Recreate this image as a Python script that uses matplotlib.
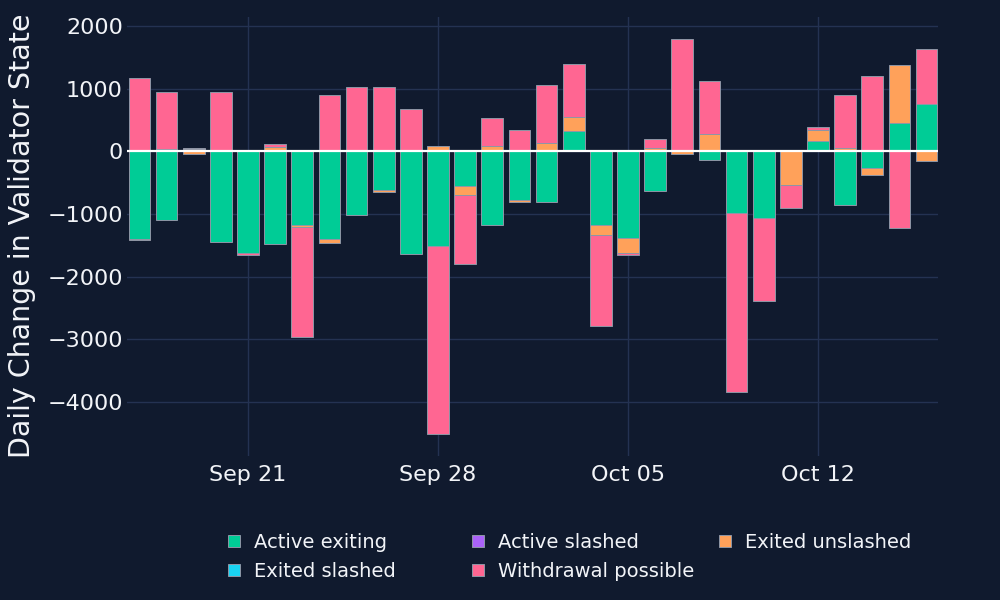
import matplotlib
matplotlib.use('Agg')
import matplotlib.pyplot as plt
import matplotlib.dates as mdates
from matplotlib.lines import Line2D
import numpy as np
import pandas as pd

# ---- data ----
dates = ["2023-09-17", "2023-09-18", "2023-09-19", "2023-09-20", "2023-09-21",
         "2023-09-22", "2023-09-23", "2023-09-24", "2023-09-25", "2023-09-26",
         "2023-09-27", "2023-09-28", "2023-09-29", "2023-09-30", "2023-10-01",
         "2023-10-02", "2023-10-03", "2023-10-04", "2023-10-05", "2023-10-06",
         "2023-10-07", "2023-10-08", "2023-10-09", "2023-10-10", "2023-10-11",
         "2023-10-12", "2023-10-13", "2023-10-14", "2023-10-15", "2023-10-16"]

active_exiting = [-1400, -1090, 30, -1440, -1625, -1476, -1175, -1400, -1010, -620,
                  -1636, -1513, -550, -1180, -775, -817, 321, -1184, -1385, -641,
                  0, -133, -977, -1067, 0, 172, -853, -263, 450, 747]
active_slashed = [0] * 30
exited_unslashed = [-20, 30, -50, 20, 25, 67, -40, -65, 0, -37,
                    20, 90, -155, 85, -30, 140, 224, -146, -240, 50,
                    -50, 282, 20, 0, -530, 171, 50, -117, 925, -147]
exited_slashed = [0] * 30
withdrawal_possible = [1168, 915, 15, 925, -30, 48, -1750, 900, 1020, 1030,
                       650, -3000, -1092, 440, 340, 925, 851, -1455, -27, 145,
                       1795, 842, -2868, -1320, -367, 43, 856, 1194, -1225, 884]

series_names = ["Active exiting", "Active slashed", "Exited unslashed",
                "Exited slashed", "Withdrawal possible"]
series_values = [active_exiting, active_slashed, exited_unslashed,
                 exited_slashed, withdrawal_possible]
series_colors = ["#00CC96", "#AB63FA", "#FFA15A", "#19D3F3", "#FF6692"]

tick_dates = ["2023-09-21", "2023-09-28", "2023-10-05", "2023-10-12"]
tick_labels = ["Sep 21", "Sep 28", "Oct 05", "Oct 12"]

y_ticks = [-4000, -3000, -2000, -1000, 0, 1000, 2000]

# ---- style ----
BG = "#101a2e"
GRID = "#243252"
TXT = "#f2f4f8"
EDGE = "#8e96a6"

plt.rcParams['font.family'] = ['DejaVu Sans']

fig = plt.figure(figsize=(10, 6), dpi=100, facecolor=BG)
ax = fig.add_axes([0.127, 0.2405, 0.811, 0.7312])
ax.set_facecolor(BG)

x = pd.to_datetime(dates)
xn = mdates.date2num(x)

pos_bottom = np.zeros(len(dates))
neg_bottom = np.zeros(len(dates))
for name, vals, col in zip(series_names, series_values, series_colors):
    v = np.asarray(vals, dtype=float)
    pm = v > 0
    nm = v < 0
    if pm.any():
        ax.bar(xn[pm], v[pm], bottom=pos_bottom[pm], width=0.8, color=col,
               edgecolor=EDGE, linewidth=0.7, zorder=3)
    if nm.any():
        ax.bar(xn[nm], v[nm], bottom=neg_bottom[nm], width=0.8, color=col,
               edgecolor=EDGE, linewidth=0.7, zorder=3)
    pos_bottom += np.where(pm, v, 0)
    neg_bottom += np.where(nm, v, 0)

ax.axhline(0, color="white", linewidth=1.6, zorder=4)

ax.set_xlim(xn[0] - 0.46, xn[-1] + 0.42)
ax.set_ylim(-4857, 2143)

ax.set_xticks(mdates.date2num(pd.to_datetime(tick_dates)))
ax.set_xticklabels(tick_labels)
ax.set_yticks(y_ticks)
ax.tick_params(axis='both', length=0, labelsize=16, colors=TXT)
ax.tick_params(axis='x', pad=7)
ax.tick_params(axis='y', pad=3)
ax.grid(True, color=GRID, linewidth=1.0, zorder=0)
ax.set_axisbelow(True)
for s in ax.spines.values():
    s.set_visible(False)

fig.text(0.022, 1 - 236 / 600, "Daily Change in Validator State", rotation=90,
         ha='center', va='center', fontsize=20.5, color=TXT)

# legend: three columns placed like the reference
handles = [Line2D([], [], marker='s', linestyle='none', markersize=9,
                  markerfacecolor=c, markeredgecolor=EDGE, markeredgewidth=0.7)
           for c in series_colors]
columns = [[0, 3], [1, 4], [2]]
col_x = [225 / 1000, 469 / 1000, 716 / 1000]
for cx, idxs in zip(col_x, columns):
    leg = fig.legend([handles[i] for i in idxs], [series_names[i] for i in idxs],
                     loc='upper left', bbox_to_anchor=(cx, 1 - 533 / 600),
                     frameon=False, fontsize=14, handlelength=0.9,
                     handletextpad=0.6, labelspacing=0.5, borderpad=0,
                     borderaxespad=0, labelcolor=TXT)

fig.savefig("out.png", dpi=100, facecolor=BG)
